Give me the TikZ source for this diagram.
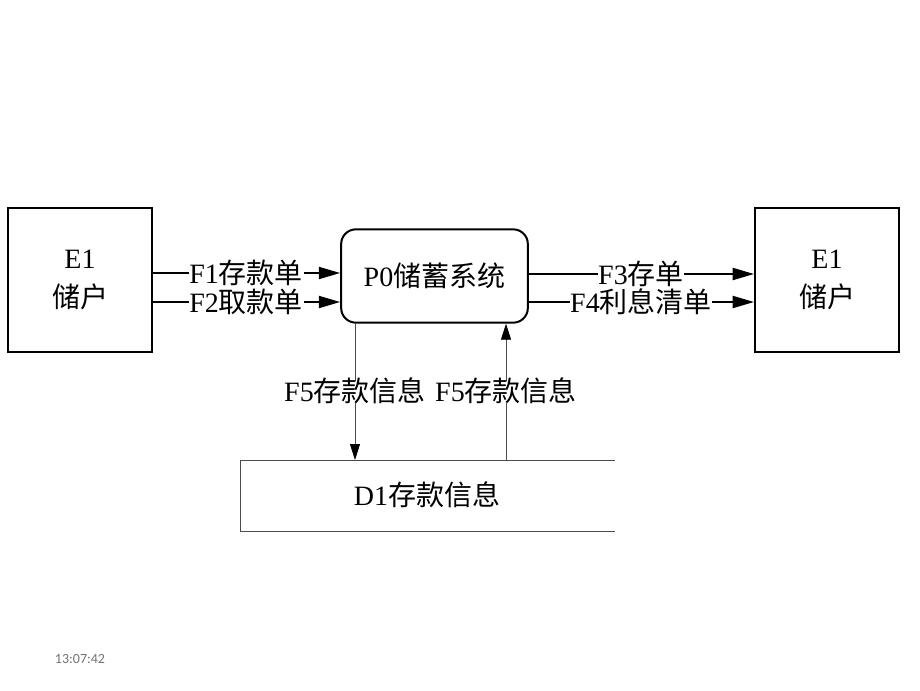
\documentclass[tikz,border=0pt]{standalone}
\usepackage{fontspec}
\setmainfont{Liberation Serif}
\newfontfamily\cjk{Noto Sans CJK SC}
\newfontfamily\stampfont{Carlito}
\usetikzlibrary{arrows.meta}
\begin{document}
\begin{tikzpicture}[x=0.75pt,y=-0.75pt,
  every node/.style={font=\fontsize{21}{27}\selectfont},
  entity/.style={draw,line width=1.5pt,minimum width=108pt,minimum height=108pt,inner sep=0pt,align=center},
  proc/.style={draw,line width=1.5pt,rounded corners=11pt,minimum width=140pt,minimum height=70pt,inner sep=0pt},
  flow/.style={line width=1.5pt,-{Triangle[length=16pt,width=9pt]}},
  thinflow/.style={line width=0.6pt,draw=black!70,-{Triangle[length=12pt,width=7.5pt,color=black,fill=black]}},
  lbl/.style={fill=white,inner sep=0.5pt,text height=15pt,text depth=0pt}]
\useasboundingbox (0,0) rectangle (920,690);
\node[entity] (e1) at (80,280) {E1\\[2pt]{\cjk 储户}};
\node[entity] (e2) at (827,280) {E1\\[2pt]{\cjk 储户}};
\node[proc] (p0) at (434.5,276) {P0{\cjk 储蓄系统}};
% data store
\coordinate (dtr) at (615,460);
\coordinate (dtl) at (240,460);
\coordinate (dbl) at (240,531);
\coordinate (dbr) at (615,531);
\draw[line width=0.6pt,draw=black!70] (dtr) -- (dtl) -- (dbl) -- (dbr);
\node (d1) at (427,495) {D1{\cjk 存款信息}};
% flows
\coordinate (f1s) at (152,273);
\coordinate (f2s) at (152,302);
\draw[flow] (f1s) -- (f1s -| p0.west) node[lbl,midway] {F1{\cjk 存款单}};
\draw[flow] (f2s) -- (f2s -| p0.west) node[lbl,midway] {F2{\cjk 取款单}};
\coordinate (f3s) at (528,274);
\coordinate (f4s) at (528,302);
\draw[flow] (f3s) -- (f3s -| e2.west) node[lbl,midway] {F3{\cjk 存单}};
\draw[flow] (f4s) -- (f4s -| e2.west) node[lbl,midway] {F4{\cjk 利息清单}};
\coordinate (f5a) at (355,323);
\coordinate (f5b) at (506,460);
\draw[thinflow] (f5a) -- (f5a |- dtl) node[lbl,midway] {F5{\cjk 存款信息}};
\draw[thinflow] (f5b) -- (f5b |- p0.south) node[lbl,midway] {F5{\cjk 存款信息}};
\node[font=\stampfont\fontsize{10.5}{12}\selectfont,text=black!55] (ts) at (80,659) {13:07:42};
\end{tikzpicture}
\end{document}
